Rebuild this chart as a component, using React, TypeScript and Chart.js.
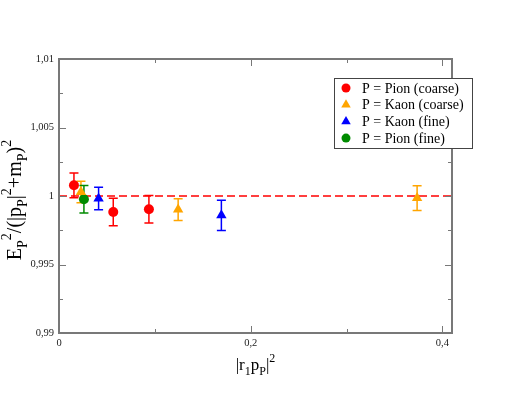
import React, { useEffect, useRef } from "react";
import { Chart, registerables } from "chart.js";

Chart.register(...registerables);

// Data (x = |r1 pP|^2, y = ratio, e = error)
const pionCoarseX = [0.0156, 0.0566, 0.0938];
const pionCoarseY = [1.00078, 0.99883, 0.99903];
const pionCoarseE = [0.0009, 0.001, 0.001];

const kaonCoarseX = [0.0229, 0.1243, 0.3736];
const kaonCoarseY = [1.00029, 0.99901, 0.99985];
const kaonCoarseE = [0.00079, 0.00079, 0.0009];

const kaonFineX = [0.0413, 0.1694];
const kaonFineY = [0.99981, 0.99859];
const kaonFineE = [0.00082, 0.0011];

const pionFineX = [0.026];
const pionFineY = [0.99976];
const pionFineE = [0.001];

const seriesNames = ["P = Pion (coarse)", "P = Kaon (coarse)", "P = Kaon (fine)", "P = Pion (fine)"];
const seriesColors = ["#ff0000", "#ffa500", "#0000ff", "rgb(0,139,0)"];
const seriesShapes = ["circle", "triangle", "triangle", "circle"];

const xMajorTicks = [0, 0.2, 0.4];
const xMinorTicks = [0.1, 0.3];
const yMajorTicks = [0.99, 0.995, 1, 1.005, 1.01];
const yMinorTicks = [0.9925, 0.9975, 1.0025, 1.0075];
const xMin = 0;
const xMax = 0.41;
const yMin = 0.99;
const yMax = 1.01;
const refLineY = 1;

const SERIF = '"Liberation Serif", "Times New Roman", serif';

function fmt(v: number): string {
  const r = Math.round(v * 10000) / 10000;
  return String(r).replace(".", ",");
}

type Seg = { t: string; k: "n" | "sub" | "sup" };

function drawRich(ctx: CanvasRenderingContext2D, segs: Seg[], x: number, y: number, big: number, small: number, center: boolean) {
  const fontFor = (k: string) => `${k === "n" ? big : small}px ${SERIF}`;
  let total = 0;
  for (const s of segs) {
    ctx.font = fontFor(s.k);
    total += ctx.measureText(s.t).width;
  }
  let cx = center ? x - total / 2 : x;
  for (const s of segs) {
    ctx.font = fontFor(s.k);
    const dy = s.k === "sub" ? big * 0.3 : s.k === "sup" ? -big * 0.5 : 0;
    ctx.fillText(s.t, cx, y + dy);
    cx += ctx.measureText(s.t).width;
  }
}

function drawMarker(ctx: CanvasRenderingContext2D, shape: string, x: number, y: number, r: number, color: string) {
  ctx.fillStyle = color;
  ctx.beginPath();
  if (shape === "circle") {
    ctx.arc(x, y, r, 0, Math.PI * 2);
  } else {
    let a = 0;
    ctx.moveTo(x + Math.sin(a) * r, y - Math.cos(a) * r);
    a += (2 * Math.PI) / 3;
    ctx.lineTo(x + Math.sin(a) * r, y - Math.cos(a) * r);
    a += (2 * Math.PI) / 3;
    ctx.lineTo(x + Math.sin(a) * r, y - Math.cos(a) * r);
    ctx.closePath();
  }
  ctx.fill();
}

const allSeries = [
  { x: pionCoarseX, y: pionCoarseY, e: pionCoarseE },
  { x: kaonCoarseX, y: kaonCoarseY, e: kaonCoarseE },
  { x: kaonFineX, y: kaonFineY, e: kaonFineE },
  { x: pionFineX, y: pionFineY, e: pionFineE },
];

const decorPlugin = {
  id: "decor",
  beforeDatasetsDraw(chart: any) {
    const ctx = chart.ctx as CanvasRenderingContext2D;
    const xs = chart.scales.x;
    const ys = chart.scales.y;
    ctx.save();
    ctx.lineWidth = 1.5;
    allSeries.forEach((s, i) => {
      ctx.strokeStyle = seriesColors[i];
      s.x.forEach((xv, j) => {
        const px = xs.getPixelForValue(xv);
        const top = ys.getPixelForValue(s.y[j] + s.e[j]);
        const bot = ys.getPixelForValue(s.y[j] - s.e[j]);
        ctx.beginPath();
        ctx.moveTo(px, top);
        ctx.lineTo(px, bot);
        ctx.moveTo(px - 4.5, top);
        ctx.lineTo(px + 4.5, top);
        ctx.moveTo(px - 4.5, bot);
        ctx.lineTo(px + 4.5, bot);
        ctx.stroke();
      });
    });
    ctx.restore();
  },
  afterDraw(chart: any) {
    const ctx = chart.ctx as CanvasRenderingContext2D;
    const a = chart.chartArea;
    const xs = chart.scales.x;
    const ys = chart.scales.y;
    ctx.save();
    // frame
    ctx.strokeStyle = "rgb(120,120,120)";
    ctx.lineWidth = 2;
    ctx.strokeRect(a.left, a.top, a.right - a.left, a.bottom - a.top);
    // ticks
    ctx.lineWidth = 1;
    ctx.beginPath();
    const xt = (v: number, len: number) => {
      const p = Math.round(xs.getPixelForValue(v)) + 0.5;
      ctx.moveTo(p, a.bottom);
      ctx.lineTo(p, a.bottom - len);
      ctx.moveTo(p, a.top);
      ctx.lineTo(p, a.top + len);
    };
    const yt = (v: number, len: number) => {
      const p = Math.round(ys.getPixelForValue(v)) + 0.5;
      ctx.moveTo(a.left, p);
      ctx.lineTo(a.left + len, p);
      ctx.moveTo(a.right, p);
      ctx.lineTo(a.right - len, p);
    };
    xMajorTicks.forEach((v) => xt(v, 7));
    xMinorTicks.forEach((v) => xt(v, 4));
    yMajorTicks.forEach((v) => yt(v, 7));
    yMinorTicks.forEach((v) => yt(v, 4));
    ctx.stroke();

    // axis titles
    ctx.fillStyle = "#000";
    ctx.textAlign = "left";
    ctx.textBaseline = "alphabetic";
    drawRich(
      ctx,
      [
        { t: "|r", k: "n" },
        { t: "1", k: "sub" },
        { t: "p", k: "n" },
        { t: "P", k: "sub" },
        { t: "|", k: "n" },
        { t: "2", k: "sup" },
      ],
      (a.left + a.right) / 2,
      370,
      17,
      12,
      true
    );
    ctx.save();
    ctx.translate(21, 200);
    ctx.rotate(-Math.PI / 2);
    drawRich(
      ctx,
      [
        { t: "E", k: "n" },
        { t: "P", k: "sub" },
        { t: "2", k: "sup" },
        { t: "/(|p", k: "n" },
        { t: "P", k: "sub" },
        { t: "|", k: "n" },
        { t: "2", k: "sup" },
        { t: "+m", k: "n" },
        { t: "P", k: "sub" },
        { t: ")", k: "n" },
        { t: "2", k: "sup" },
      ],
      0,
      0,
      20,
      14,
      true
    );
    ctx.restore();

    // legend
    const lx = 334, ly = 78, lw = 138, lh = 70;
    ctx.fillStyle = "#fff";
    ctx.fillRect(lx, ly, lw, lh);
    ctx.strokeStyle = "#444";
    ctx.lineWidth = 1;
    ctx.strokeRect(lx + 0.5, ly + 0.5, lw, lh);
    seriesNames.forEach((name, i) => {
      const cy = 88 + i * 16.7;
      drawMarker(ctx, seriesShapes[i], 346, cy, seriesShapes[i] === "circle" ? 4.5 : 5.5, seriesColors[i]);
      ctx.fillStyle = "#000";
      ctx.font = `14px ${SERIF}`;
      ctx.textBaseline = "middle";
      ctx.fillText(name, 362, cy + 1);
    });
    ctx.restore();
  },
};

export default function App() {
  const ref = useRef<HTMLCanvasElement | null>(null);
  useEffect(() => {
    document.body.style.margin = "0";
    if (!ref.current) return;
    const datasets: any[] = allSeries.map((s, i) => ({
      label: seriesNames[i],
      data: s.x.map((xv, j) => ({ x: xv, y: s.y[j] })),
      showLine: false,
      pointStyle: seriesShapes[i],
      pointRadius: seriesShapes[i] === "circle" ? 5 : 6,
      pointBackgroundColor: seriesColors[i],
      pointBorderColor: seriesColors[i],
      pointBorderWidth: 0,
      backgroundColor: seriesColors[i],
      borderColor: seriesColors[i],
    }));
    datasets.push({
      label: "ref",
      data: [
        { x: xMin, y: refLineY },
        { x: xMax, y: refLineY },
      ],
      showLine: true,
      borderColor: "#ff0000",
      borderWidth: 1.5,
      borderDash: [8, 4],
      pointRadius: 0,
      fill: false,
    });
    const chart = new Chart(ref.current, {
      type: "scatter",
      data: { datasets },
      plugins: [decorPlugin],
      options: {
        responsive: false,
        animation: false,
        layout: { padding: { top: 59, right: 57, left: 0, bottom: 0 } },
        plugins: { legend: { display: false }, tooltip: { enabled: false } },
        scales: {
          x: {
            type: "linear",
            min: xMin,
            max: xMax,
            grid: { display: false, drawTicks: false, tickLength: 0 },
            border: { display: false },
            afterBuildTicks: (s: any) => {
              s.ticks = xMajorTicks.map((v) => ({ value: v }));
            },
            afterFit: (s: any) => {
              s.height = 60;
            },
            ticks: {
              autoSkip: false,
              maxRotation: 0,
              padding: 4,
              color: "#222",
              font: { family: SERIF, size: 10.5 },
              callback: (v: any) => fmt(Number(v)),
            },
          },
          y: {
            type: "linear",
            min: yMin,
            max: yMax,
            grid: { display: false, drawTicks: false, tickLength: 0 },
            border: { display: false },
            afterBuildTicks: (s: any) => {
              s.ticks = yMajorTicks.map((v) => ({ value: v }));
            },
            afterFit: (s: any) => {
              s.width = 59;
            },
            ticks: {
              autoSkip: false,
              padding: 5,
              color: "#222",
              font: { family: SERIF, size: 10.5 },
              callback: (v: any) => fmt(Number(v)),
            },
          },
        },
      },
    } as any);
    return () => chart.destroy();
  }, []);
  return (
    <div style={{ position: "absolute", left: 0, top: 0, width: 509, height: 393 }}>
      <canvas ref={ref} width={509} height={393} style={{ display: "block" }} />
    </div>
  );
}
